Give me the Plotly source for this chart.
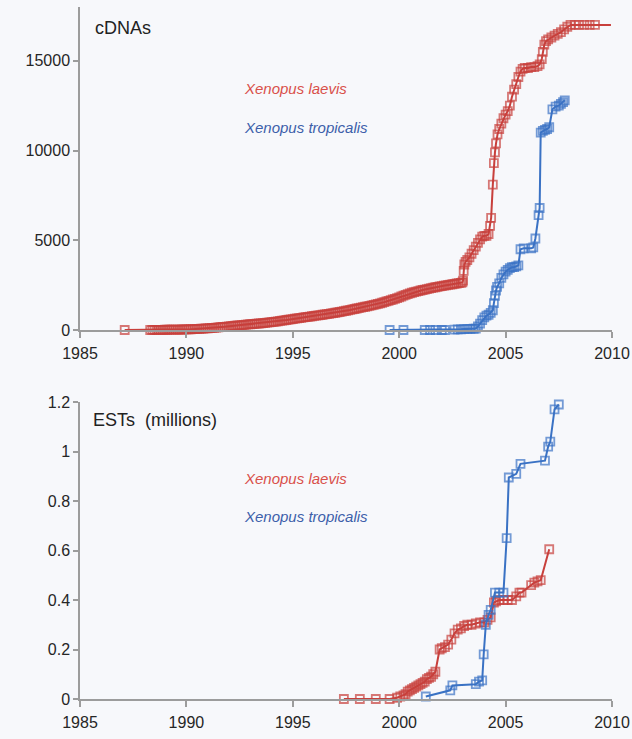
import plotly.graph_objects as go
from plotly.subplots import make_subplots

# ---- cDNA counts (cumulative) ----
laevis_cdna_year = [
    1987.1,
    1988.3, 1988.4, 1988.5, 1988.6, 1988.7, 1988.8, 1988.9, 1989.0, 1989.1, 1989.2,
    1989.3, 1989.4, 1989.5, 1989.6, 1989.7, 1989.8, 1989.9, 1990.0, 1990.1, 1990.2,
    1990.3, 1990.4, 1990.5, 1990.6, 1990.7, 1990.8, 1990.9, 1991.0, 1991.1, 1991.2,
    1991.3, 1991.4, 1991.5, 1991.6, 1991.7, 1991.8, 1991.9, 1992.0, 1992.1, 1992.2,
    1992.3, 1992.4, 1992.5, 1992.6, 1992.7, 1992.8, 1992.9, 1993.0, 1993.1, 1993.2,
    1993.3, 1993.4, 1993.5, 1993.6, 1993.7, 1993.8, 1993.9, 1994.0, 1994.1, 1994.2,
    1994.3, 1994.4, 1994.5, 1994.6, 1994.7, 1994.8, 1994.9, 1995.0, 1995.1, 1995.2,
    1995.3, 1995.4, 1995.5, 1995.6, 1995.7, 1995.8, 1995.9, 1996.0, 1996.1, 1996.2,
    1996.3, 1996.4, 1996.5, 1996.6, 1996.7, 1996.8, 1996.9, 1997.0, 1997.1, 1997.2,
    1997.3, 1997.4, 1997.5, 1997.6, 1997.7, 1997.8, 1997.9, 1998.0, 1998.1, 1998.2,
    1998.3, 1998.4, 1998.5, 1998.6, 1998.7, 1998.8, 1998.9, 1999.0, 1999.1, 1999.2,
    1999.3, 1999.4, 1999.5, 1999.6, 1999.7, 1999.8, 1999.9, 2000.0, 2000.1, 2000.2,
    2000.3, 2000.4, 2000.5, 2000.6, 2000.7, 2000.8, 2000.9, 2001.0, 2001.1, 2001.2,
    2001.3, 2001.4, 2001.5, 2001.6, 2001.7, 2001.8, 2001.9, 2002.0, 2002.1, 2002.2,
    2002.3, 2002.4, 2002.5, 2002.6, 2002.7, 2002.8, 2002.9, 2002.97,
    2003.0, 2003.03, 2003.06, 2003.12, 2003.2, 2003.3, 2003.4, 2003.5, 2003.6, 2003.7,
    2003.8, 2003.9, 2004.0, 2004.1, 2004.2, 2004.27, 2004.32, 2004.4, 2004.45, 2004.5,
    2004.55, 2004.62, 2004.7, 2004.8, 2004.9, 2005.0, 2005.1, 2005.2, 2005.3, 2005.4,
    2005.5, 2005.6, 2005.7, 2005.8, 2005.9, 2006.05, 2006.2, 2006.35, 2006.5, 2006.6,
    2006.7, 2006.75, 2006.82, 2006.9, 2007.0, 2007.15, 2007.3, 2007.45, 2007.6, 2007.75,
    2007.9, 2008.05, 2008.25, 2008.45, 2008.7, 2008.95, 2009.2, 2009.95,
]
laevis_cdna_count = [
    0,
    0, 3, 5, 7, 9, 10, 12, 13, 15, 16,
    18, 20, 22, 24, 26, 28, 31, 34, 38, 42,
    47, 53, 59, 65, 72, 79, 87, 95, 104, 113,
    122, 133, 144, 155, 166, 178, 190, 202, 214, 226,
    238, 250, 262, 274, 286, 298, 309, 320, 330, 341,
    352, 362, 374, 386, 398, 411, 425, 440, 455, 470,
    486, 503, 521, 538, 556, 574, 592, 611, 629, 646,
    663, 681, 698, 715, 733, 750, 767, 784, 800, 817,
    833, 850, 867, 885, 902, 921, 940, 960, 981, 1003,
    1025, 1048, 1072, 1095, 1120, 1145, 1170, 1197, 1223, 1248,
    1273, 1297, 1322, 1347, 1373, 1400, 1427, 1455, 1485, 1518,
    1553, 1590, 1627, 1663, 1700, 1740, 1780, 1820, 1866, 1913,
    1960, 2000, 2038, 2075, 2108, 2140, 2170, 2200, 2228, 2255,
    2282, 2308, 2335, 2358, 2382, 2405, 2428, 2450, 2470, 2490,
    2510, 2530, 2550, 2570, 2590, 2610, 2630, 2650,
    2750, 3300, 3650, 3800, 3900, 4050, 4250, 4450, 4650, 4850,
    5050, 5200, 5250, 5250, 5350, 5800, 6250, 8100, 9300, 9900,
    10400, 10900, 11200, 11500, 11800, 12000, 12200, 12500, 13000, 13400,
    13700, 14100, 14400, 14550, 14600, 14600, 14650, 14650, 14700, 14800,
    15100, 15500, 15900, 16100, 16200, 16300, 16400, 16500, 16600, 16750,
    16900, 17000, 17000, 17000, 17000, 17000, 17000, 17000,
]

trop_cdna_year = [
    1999.55, 2000.2, 2001.2, 2001.45, 2001.7, 2002.0, 2002.15, 2002.6, 2002.75, 2002.9,
    2003.05, 2003.2, 2003.35, 2003.5, 2003.6, 2003.7, 2003.8, 2003.9, 2004.0, 2004.1,
    2004.2, 2004.3, 2004.4, 2004.45, 2004.5, 2004.55, 2004.6, 2004.7, 2004.8, 2004.9,
    2005.0, 2005.1, 2005.2, 2005.3, 2005.4, 2005.5, 2005.6, 2005.7, 2005.85, 2006.2,
    2006.3, 2006.4, 2006.55, 2006.6, 2006.65, 2006.75, 2006.85, 2006.95, 2007.05, 2007.2,
    2007.35, 2007.5, 2007.6, 2007.7, 2007.78,
]
trop_cdna_count = [
    0, 0, 0, 0, 0, 0, 0, 20, 30, 40,
    50, 60, 60, 70, 80, 200, 350, 550, 700, 800,
    850, 950, 1100, 1500, 1900, 2200, 2400, 2600, 2900, 3100,
    3250, 3350, 3450, 3500, 3500, 3550, 3600, 4500, 4550, 4550,
    4600, 5100, 6400, 6800, 11000, 11100, 11150, 11200, 11300, 12300,
    12450, 12500, 12600, 12700, 12800,
]

# ---- EST counts (cumulative, millions) ----
laevis_est_year = [
    1997.4, 1998.15, 1998.9, 1999.55, 1999.9, 2000.05, 2000.2, 2000.3, 2000.4, 2000.5,
    2000.6, 2000.7, 2000.8, 2000.9, 2001.0, 2001.1, 2001.2, 2001.3, 2001.4, 2001.5,
    2001.6, 2001.7, 2001.9, 2002.0, 2002.15, 2002.3, 2002.45, 2002.6, 2002.75, 2002.9,
    2003.05, 2003.2, 2003.4, 2003.6, 2003.8, 2004.0, 2004.15, 2004.3, 2004.45, 2004.55,
    2004.7, 2004.9, 2005.1, 2005.3, 2005.5, 2005.65, 2005.75, 2006.2, 2006.35, 2006.5,
    2006.65, 2007.05,
]
laevis_est_count = [
    0, 0, 0, 0, 0.005, 0.01, 0.015, 0.02, 0.03, 0.035,
    0.04, 0.045, 0.05, 0.055, 0.06, 0.065, 0.07, 0.08, 0.085, 0.09,
    0.1, 0.11, 0.2, 0.205, 0.21, 0.22, 0.24, 0.265, 0.28, 0.285,
    0.295, 0.3, 0.3, 0.305, 0.31, 0.31, 0.32, 0.33, 0.39, 0.395,
    0.4, 0.4, 0.4, 0.4, 0.415, 0.43, 0.43, 0.46, 0.47, 0.475,
    0.48, 0.605,
]

trop_est_year = [
    2001.25, 2002.4, 2002.5, 2003.6, 2003.75, 2003.9, 2003.97, 2004.07, 2004.2, 2004.3,
    2004.5, 2004.7, 2004.9, 2005.05, 2005.15, 2005.5, 2005.7, 2006.85, 2007.0, 2007.1,
    2007.3, 2007.5,
]
trop_est_count = [
    0.01, 0.035, 0.055, 0.06, 0.07, 0.075, 0.18, 0.3, 0.34, 0.36,
    0.43, 0.43, 0.43, 0.65, 0.895, 0.91, 0.95, 0.963, 1.02, 1.04,
    1.17, 1.19,
]

species = ["Xenopus laevis", "Xenopus tropicalis"]
x_ticks = [1985, 1990, 1995, 2000, 2005, 2010]
cdna_ticks = [0, 5000, 10000, 15000]
cdna_tick_text = ["0", "5000", "10000", "15000"]
est_ticks = [0, 0.2, 0.4, 0.6, 0.8, 1, 1.2]
est_tick_text = ["0", "0.2", "0.4", "0.6", "0.8", "1", "1.2"]

RED = "#c8403c"
BLUE = "#3a72c4"
BG = "#f7f8fb"
AXIS = "#9c9c9c"

W, H = 632, 739
ML, MR, MT, MB = 80, 20, 7, 40
PW, PH = W - ML - MR, H - MT - MB


def px(x):
    return (x - ML) / PW


def py(y):
    return (H - MB - y) / PH


fig = make_subplots(rows=2, cols=1)


def add_series(xs, ys, color, row, hide_last=False):
    sizes = [8] * len(xs)
    if hide_last:
        sizes[-1] = 0
    fig.add_trace(
        go.Scatter(
            x=xs, y=ys, mode="lines+markers", cliponaxis=False,
            line=dict(color=color, width=2),
            marker=dict(symbol="square-open", size=sizes, color=color,
                        line=dict(width=1.8, color=color)),
            showlegend=False, hoverinfo="skip",
        ),
        row=row, col=1,
    )


add_series(laevis_cdna_year, laevis_cdna_count, RED, 1, hide_last=True)
add_series(trop_cdna_year, trop_cdna_count, BLUE, 1)
add_series(laevis_est_year, laevis_est_count, RED, 2)
add_series(trop_est_year, trop_est_count, BLUE, 2)

tick_font = dict(family="Liberation Sans, Arial, sans-serif", size=16, color="#262626")
xaxis_style = dict(
    range=[1985, 2010], tickvals=x_ticks, showgrid=False, zeroline=False,
    showline=True, linecolor=AXIS, linewidth=1.5, automargin=False,
    ticks="outside", ticklen=6, tickwidth=1.5, tickcolor=AXIS,
    tickfont=tick_font, ticklabelstandoff=2,
)
yaxis_style = dict(
    showgrid=False, zeroline=False, showline=True, linecolor=AXIS, linewidth=1.5,
    automargin=False, ticks="outside", ticklen=5, tickwidth=1.5, tickcolor=AXIS,
    tickfont=tick_font,
)

fig.update_xaxes(**xaxis_style)
fig.update_yaxes(**yaxis_style)
fig.update_yaxes(range=[0, 18000], tickvals=cdna_ticks, ticktext=cdna_tick_text, row=1, col=1)
fig.update_yaxes(range=[0, 1.2], tickvals=est_ticks, ticktext=est_tick_text, row=2, col=1)

fig.update_layout(
    width=W, height=H,
    margin=dict(l=ML, r=MR, t=MT, b=MB),
    paper_bgcolor=BG, plot_bgcolor=BG,
    yaxis=dict(domain=[py(330), 1.0]),
    yaxis2=dict(domain=[0.0, py(402)]),
)

title_font = dict(family="Liberation Sans, Arial, sans-serif", size=18, color="#222222")
label_font = dict(family="Liberation Sans, Arial, sans-serif", size=15)

annotations = [
    dict(text="cDNAs", x=px(93), y=py(28), font=title_font),
    dict(text="ESTs  (millions)", x=px(91), y=py(420), font=title_font),
    dict(text=f"<i>{species[0]}</i>", x=px(242), y=py(88), font=dict(label_font, color="#d9504a")),
    dict(text=f"<i>{species[1]}</i>", x=px(242), y=py(127), font=dict(label_font, color="#3d5faa")),
    dict(text=f"<i>{species[0]}</i>", x=px(242), y=py(478), font=dict(label_font, color="#d9504a")),
    dict(text=f"<i>{species[1]}</i>", x=px(242), y=py(516), font=dict(label_font, color="#3d5faa")),
]
for a in annotations:
    fig.add_annotation(xref="paper", yref="paper", xanchor="left", yanchor="middle",
                       showarrow=False, **a)

fig.write_html("out.html")
